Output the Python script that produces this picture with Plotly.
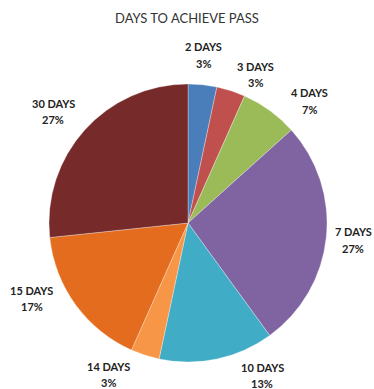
import plotly.graph_objects as go

categories = ["2 DAYS", "3 DAYS", "4 DAYS", "7 DAYS", "10 DAYS", "14 DAYS", "15 DAYS", "30 DAYS"]
counts = [1, 1, 2, 8, 4, 1, 5, 8]
colors = ["#4A7EBB", "#C0504D", "#9BBB59", "#8064A2", "#40ACC6", "#F79646", "#E46C1F", "#772A2A"]
title_text = "DAYS TO ACHIEVE PASS"

W, H = 374, 389
cx, cy, R = 188, 223, 139

# label placement (pixel centre of the two-line label, as in the reference layout)
label_pos = [(204, 55), (256, 74.5), (309, 101), (353, 240),
             (262, 375.5), (108, 374.5), (32, 298.5), (53, 111.5)]

fig = go.Figure(go.Pie(
    labels=categories,
    values=counts,
    sort=False,
    direction="clockwise",
    rotation=0,
    marker=dict(colors=colors, line=dict(color="rgba(255,255,255,0.6)", width=0.5)),
    textinfo="none",
    hoverinfo="label+percent",
    domain=dict(x=[(cx - R) / W, (cx + R) / W], y=[(H - cy - R) / H, (H - cy + R) / H]),
    showlegend=False,
))

total = sum(counts)
annotations = []
for cat, v, (x, y) in zip(categories, counts, label_pos):
    pct = f"{round(100 * v / total)}%"
    for dy, t in ((-8.3, cat), (8.3, pct)):
        annotations.append(dict(
            x=x / W, y=1 - (y + dy) / H, xref="paper", yref="paper",
            text=f"<b>{t}</b>", showarrow=False, xanchor="center", yanchor="middle",
            font=dict(family="Lato, Open Sans, sans-serif", size=11, color="#222222"),
        ))

annotations.append(dict(
    x=187 / W, y=1 - 18 / H, xref="paper", yref="paper", text=title_text,
    showarrow=False, xanchor="center", yanchor="middle",
    font=dict(family="Lato, Open Sans, sans-serif", size=13, color="#333333"),
))

fig.update_layout(
    width=W, height=H,
    margin=dict(l=0, r=0, t=0, b=0),
    paper_bgcolor="white", plot_bgcolor="white",
    annotations=annotations,
)

fig.write_html("out.html")
